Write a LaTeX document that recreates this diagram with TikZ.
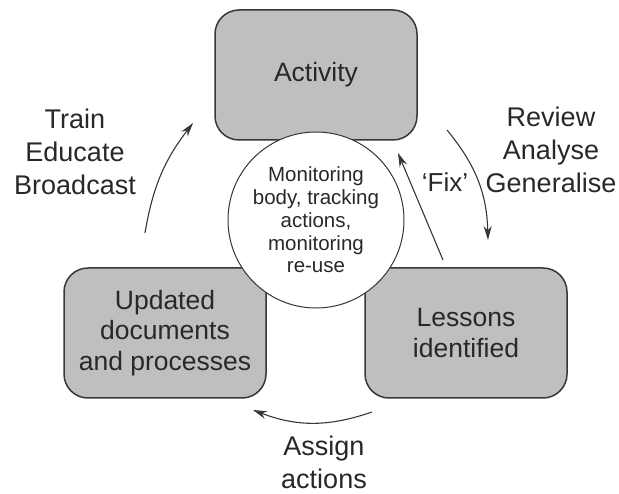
\documentclass[tikz,border=0pt]{standalone}
\usepackage{fontspec}
\setmainfont{Liberation Sans}
\usetikzlibrary{arrows.meta}
\definecolor{boxgray}{RGB}{190, 191, 193}
\definecolor{edgegray}{RGB}{55, 55, 55}
\definecolor{textgray}{RGB}{40, 40, 40}

\begin{document}
\begin{tikzpicture}[x=1pt, y=-1pt,
    stagebox/.style={draw=edgegray, line width=1.5pt, fill=boxgray, rounded corners=24pt,
        minimum width=202pt, minimum height=130pt, align=center, text=textgray,
        font=\fontsize{26.5}{30.5}\selectfont},
    hubcircle/.style={circle, draw=edgegray, line width=1pt, fill=white, minimum size=176pt,
        inner sep=0pt, align=center, text=textgray, font=\fontsize{20.5}{22.8}\selectfont},
    steplabel/.style={align=center, text=textgray, font=\fontsize{27}{33}\selectfont},
    cyclearrow/.style={-{Stealth[length=14pt, width=8pt]}, line width=1.1pt, draw=edgegray}]
    \useasboundingbox (0,0) rectangle (619,494);

    % The three stages
    \node[stagebox] (activity) at (316,75) {Activity};
    \node[stagebox] (updated) at (165,333) {Updated\\documents\\and processes};
    \node[stagebox] (lessons) at (466,333) {Lessons\\identified};

    % Centre circle sits on top of the boxes
    \node[hubcircle] (monitor) at (316,220) {Monitoring\\body, tracking\\actions,\\monitoring\\re-use};

    % Labels round the cycle
    \node[steplabel] (train) at (75,152) {Train\\Educate\\Broadcast};
    \node[steplabel] (review) at (551,150) {Review\\Analyse\\Generalise};
    \node[steplabel] (assign) at (324,462) {Assign\\actions};
    \node[steplabel, font=\fontsize{26}{28}\selectfont] (fix) at (445,182) {`Fix'};

    % Arrow end points
    \coordinate (trainfrom) at (145,233);
    \coordinate (trainto) at (193,123);
    \coordinate (reviewfrom) at (447,130);
    \coordinate (reviewto) at (488,240);
    \coordinate (fixfrom) at (443,260);
    \coordinate (fixto) at (398,153);
    \coordinate (assignfrom) at (372,412);
    \coordinate (assignto) at (253,410);

    % Cycle arrows
    \draw[cyclearrow] (trainfrom) to[bend left=14] (trainto);
    \draw[cyclearrow] (reviewfrom) to[bend left=19] (reviewto);
    \draw[cyclearrow] (fixfrom) -- (fixto);
    \draw[cyclearrow] (assignfrom) to[bend left=20] (assignto);
\end{tikzpicture}
\end{document}
